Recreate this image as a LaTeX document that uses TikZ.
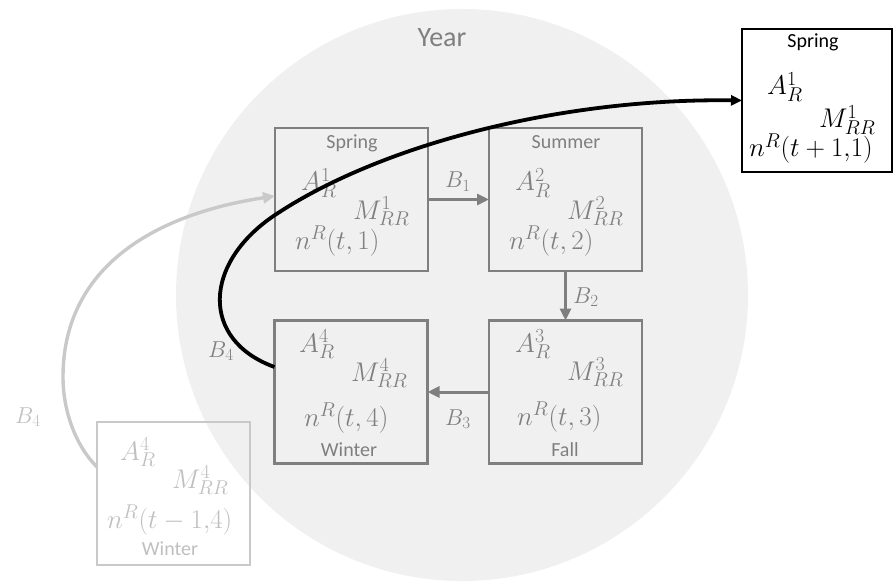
\RequirePackage{fix-cm}
\documentclass[tikz,border=0pt]{standalone}
\usepackage[no-math]{fontspec}
\newfontfamily\carl{Carlito}
\renewcommand\defaultscriptratio{.74}
\renewcommand\defaultscriptscriptratio{.55}
\usetikzlibrary{arrows.meta,calc}
\definecolor{boxgray}{HTML}{7F7F7F}
\definecolor{lightg}{HTML}{C9C9C9}
\definecolor{lighttext}{HTML}{BFBFBF}
\definecolor{circfill}{HTML}{F0F0F0}
\begin{document}
\begin{tikzpicture}[x=1pt,y=-1pt,
  season/.style={draw=boxgray, line width=2.7pt, minimum width=153pt, minimum height=143pt, inner sep=0pt, outer sep=0pt},
  mtext/.style={inner sep=0pt, anchor=base west, text=boxgray, font=\fontsize{27}{32}\selectfont},
  stext/.style={inner sep=0pt, anchor=base, text=boxgray, font=\carl\fontsize{20}{24}\selectfont},
  blabel/.style={inner sep=0pt, anchor=base west, text=boxgray, font=\fontsize{23}{28}\selectfont},
  flow/.style={draw=boxgray, line width=3pt, -{Triangle[length=12pt,width=11pt]}},
]
\useasboundingbox (0,0) rectangle (893,585);
% year circle
\node[circle, fill=circfill, minimum size=572pt, inner sep=0pt] (year) at (462,295) {};
\node[stext, font=\carl\fontsize{28}{33}\selectfont] (yearlbl) at (442,47) {Year};
% boxes
\node[season] (s1) at (351.5,199.5) {};
\node[season] (s2) at (565.5,199.5) {};
\node[season] (s3) at (565.5,392) {};
\node[season] (s4) at (351,392) {};
\node[season, draw=lightg] (s0) at (173.5,493.5) {};
\node[season, draw=black, fill=white, minimum width=150pt] (s5) at (817,100.5) {};
% texts: spring
\node[stext] (s1name) at (352,149) {Spring};
\node[mtext] (s1a) at (301,191) {$A_R^1$};
\node[mtext] (s1m) at (353,219) {$M_{RR}^1$};
\node[mtext] (s1n) at (295,249) {$n^R(t,1)$};
% summer
\node[stext] (s2name) at (566,149) {Summer};
\node[mtext] (s2a) at (515,191) {$A_R^2$};
\node[mtext] (s2m) at (567,219) {$M_{RR}^2$};
\node[mtext] (s2n) at (509,249) {$n^R(t,2)$};
% fall
\node[mtext] (s3a) at (515,352) {$A_R^3$};
\node[mtext] (s3m) at (567,380) {$M_{RR}^3$};
\node[mtext] (s3n) at (517,425) {$n^R(t,3)$};
\node[stext] (s3name) at (565,456) {Fall};
% winter
\node[mtext] (s4a) at (299,352) {$A_R^4$};
\node[mtext] (s4m) at (351,381) {$M_{RR}^4$};
\node[mtext] (s4n) at (304,426) {$n^R(t,4)$};
\node[stext] (s4name) at (349,456) {Winter};
% previous winter
\node[mtext, text=lighttext] (s0a) at (120,460) {$A_R^4$};
\node[mtext, text=lighttext] (s0m) at (172,488) {$M_{RR}^4$};
\node[mtext, text=lighttext] (s0n) at (107,528) {$n^R(t-1{,}4)$};
\node[stext, text=lighttext] (s0name) at (170,555) {Winter};
% next spring
\node[stext, text=black] (s5name) at (813,48) {Spring};
\node[mtext, text=black] (s5a) at (767,95) {$A_R^1$};
\node[mtext, text=black] (s5m) at (819,128) {$M_{RR}^1$};
\node[mtext, text=black] (s5n) at (749,157) {$n^R(t+1{,}1)$};
% flows
\draw[flow] (s1.east) -- (s2.west);
\draw[flow] (s2.south) -- (s3.north);
\draw[flow] (s3.west) -- (s4.east);
\node[blabel] (b1) at (445,188) {$B_1$};
\node[blabel] (b2) at (573,303) {$B_2$};
\node[blabel] (b3) at (445,425) {$B_3$};
\node[blabel] (b4) at (208,357) {$B_4$};
\node[blabel, text=lighttext] (b4old) at (15,423) {$B_4$};
% previous winter to spring
\coordinate (g0) at ($(s0.west)+(0,-26.5)$);
\coordinate (g1) at ($(s1.west)+(0,-3.5)$);
\draw[draw=lightg, line width=3.4pt, -{Triangle[length=12pt,width=11pt]}]
  (g0) .. controls (75,445) and (63,410) .. (63,377)
       .. controls (63,270) and (150,215) .. (g1);
% winter to next spring
\coordinate (k0) at ($(s4.west)+(0,-25)$);
\draw[draw=black, line width=3.8pt, -{Triangle[length=11pt,width=10pt]}]
  (k0) .. controls (200,340) and (203,263) .. (275,215)
       .. controls (380,145) and (560,98) .. (s5.west);
\end{tikzpicture}
\end{document}
